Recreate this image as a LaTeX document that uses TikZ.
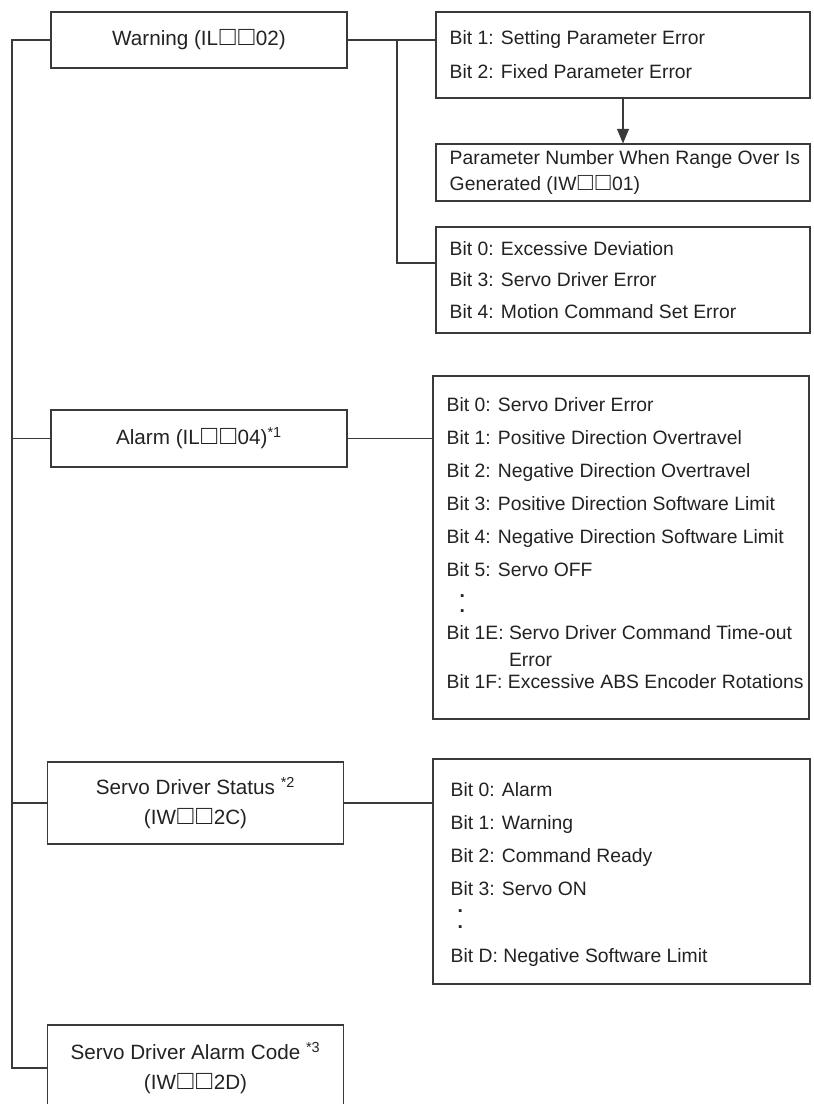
\documentclass[tikz,border=0pt]{standalone}
\usepackage{fontspec}
\usepackage{graphicx}
\setmainfont{Liberation Sans}
\usetikzlibrary{arrows.meta,positioning}
\definecolor{cLine}{HTML}{3A3A3A}
\definecolor{cText}{HTML}{222222}
\tikzset{
  regbox/.style={draw=cLine,line width=0.8pt,text=cText,inner sep=0pt,minimum width=222pt,
    align=center,font=\fontsize{15.5}{22.5}\selectfont},
  bitbox/.style={draw=cLine,line width=0.8pt,inner sep=0pt},
  bittext/.style={text=cText,inner sep=0pt,align=left,anchor=west},
  wire/.style={draw=cLine,line width=0.8pt}
}
\newcommand{\vdot}[1]{\hspace*{#1}\textbf{.}}
\newcommand{\sqr}{\kern1pt\scalebox{1.3}{\textbf{□}}\kern1pt}

\begin{document}
\begin{tikzpicture}[x=0.75pt,y=-0.75pt]
  \useasboundingbox (0,0) rectangle (814,1104);
  % registers
  \node[regbox,minimum height=42pt] (warn) at (199,40) {Warning (IL\sqr\sqr02)};
  \node[regbox,minimum height=42.75pt] (alarm) at (199,438.5) {Alarm (IL\sqr\sqr04)\textsuperscript{*1}};
  \node[regbox,minimum height=61.5pt] (stat) at (195.5,803) {Servo Driver Status \textsuperscript{*2}\\(IW\sqr\sqr2C)};
  \node[regbox,minimum height=64.5pt] (code) at (195.5,1068) {Servo Driver Alarm Code \textsuperscript{*3}\\(IW\sqr\sqr2D)};
  % bit boxes
  \node[bitbox,minimum width=280.5pt,minimum height=64.5pt] (wset) at (623,55) {};
  \node[bitbox,minimum width=280.5pt,minimum height=42.75pt] (wnum) at (623,172.5) {};
  \node[bitbox,minimum width=280.5pt,minimum height=79.5pt] (wdev) at (623,280) {};
  \node[bitbox,minimum width=282pt,minimum height=257.25pt] (abits) at (621,547.5) {};
  \node[bitbox,minimum width=282.75pt,minimum height=168.75pt] (sbits) at (621.5,871.5) {};
  \node[bittext,right=10.5pt of wset.west,font=\fontsize{14.5}{25.5}\selectfont] (wset-t)
    {Bit 1: Setting Parameter Error\\Bit 2: Fixed Parameter Error};
  \node[bittext,right=10.5pt of wnum.west,font=\fontsize{14.5}{19.5}\selectfont] (wnum-t)
    {Parameter Number When Range Over Is\\Generated (IW\sqr\sqr01)};
  \node[bittext,right=10.5pt of wdev.west,font=\fontsize{14.5}{23.6}\selectfont] (wdev-t)
    {Bit 0: Excessive Deviation\\Bit 3: Servo Driver Error\\Bit 4: Motion Command Set Error};
  \node[bittext,right=10.5pt of abits.west,yshift=3pt,font=\fontsize{14.5}{24.75}\selectfont] (abits-t)
    {Bit 0: Servo Driver Error\\
     Bit 1: Positive Direction Overtravel\\
     Bit 2: Negative Direction Overtravel\\
     Bit 3: Positive Direction Software Limit\\
     Bit 4: Negative Direction Software Limit\\
     Bit 5: Servo OFF\\[-9pt]
     \vdot{9.75pt}\\[-13.5pt]
     \vdot{9.75pt}\\[-4.5pt]
     Bit 1E: Servo Driver Command Time-out\\[-4.5pt]
     \phantom{Bit 1E: }Error\\[-8.25pt]
     Bit 1F: Excessive ABS Encoder Rotations};
  \node[bittext,right=13.5pt of sbits.west,yshift=-2pt,font=\fontsize{14.5}{24.75}\selectfont] (sbits-t)
    {Bit 0: Alarm\\Bit 1: Warning\\Bit 2: Command Ready\\Bit 3: Servo ON\\[-12pt]
     \vdot{5.25pt}\\[-12.75pt]
     \vdot{5.25pt}\\[0.75pt]
     Bit D: Negative Software Limit};
  % connectors
  \coordinate (trunk) at (12,41);
  \coordinate (wj) at (397,41);
  \draw[wire] (warn.west) -- (warn.west -| trunk) |- (code.west);
  \draw[wire] (alarm.west) -- (alarm.west -| trunk);
  \draw[wire] (stat.west) -- (stat.west -| trunk);
  \draw[wire] (warn.east) -- (warn.east -| wset.west);
  \draw[wire] (warn.east -| wj) |- ([yshift=12.75pt]wdev.west);
  \draw[wire,-{Triangle[width=9pt,length=11pt]}] (wset.south) -- (wnum.north);
  \draw[wire] (alarm.east) -- (alarm.east -| abits.west);
  \draw[wire] (stat.east) -- (stat.east -| sbits.west);
\end{tikzpicture}
\end{document}
